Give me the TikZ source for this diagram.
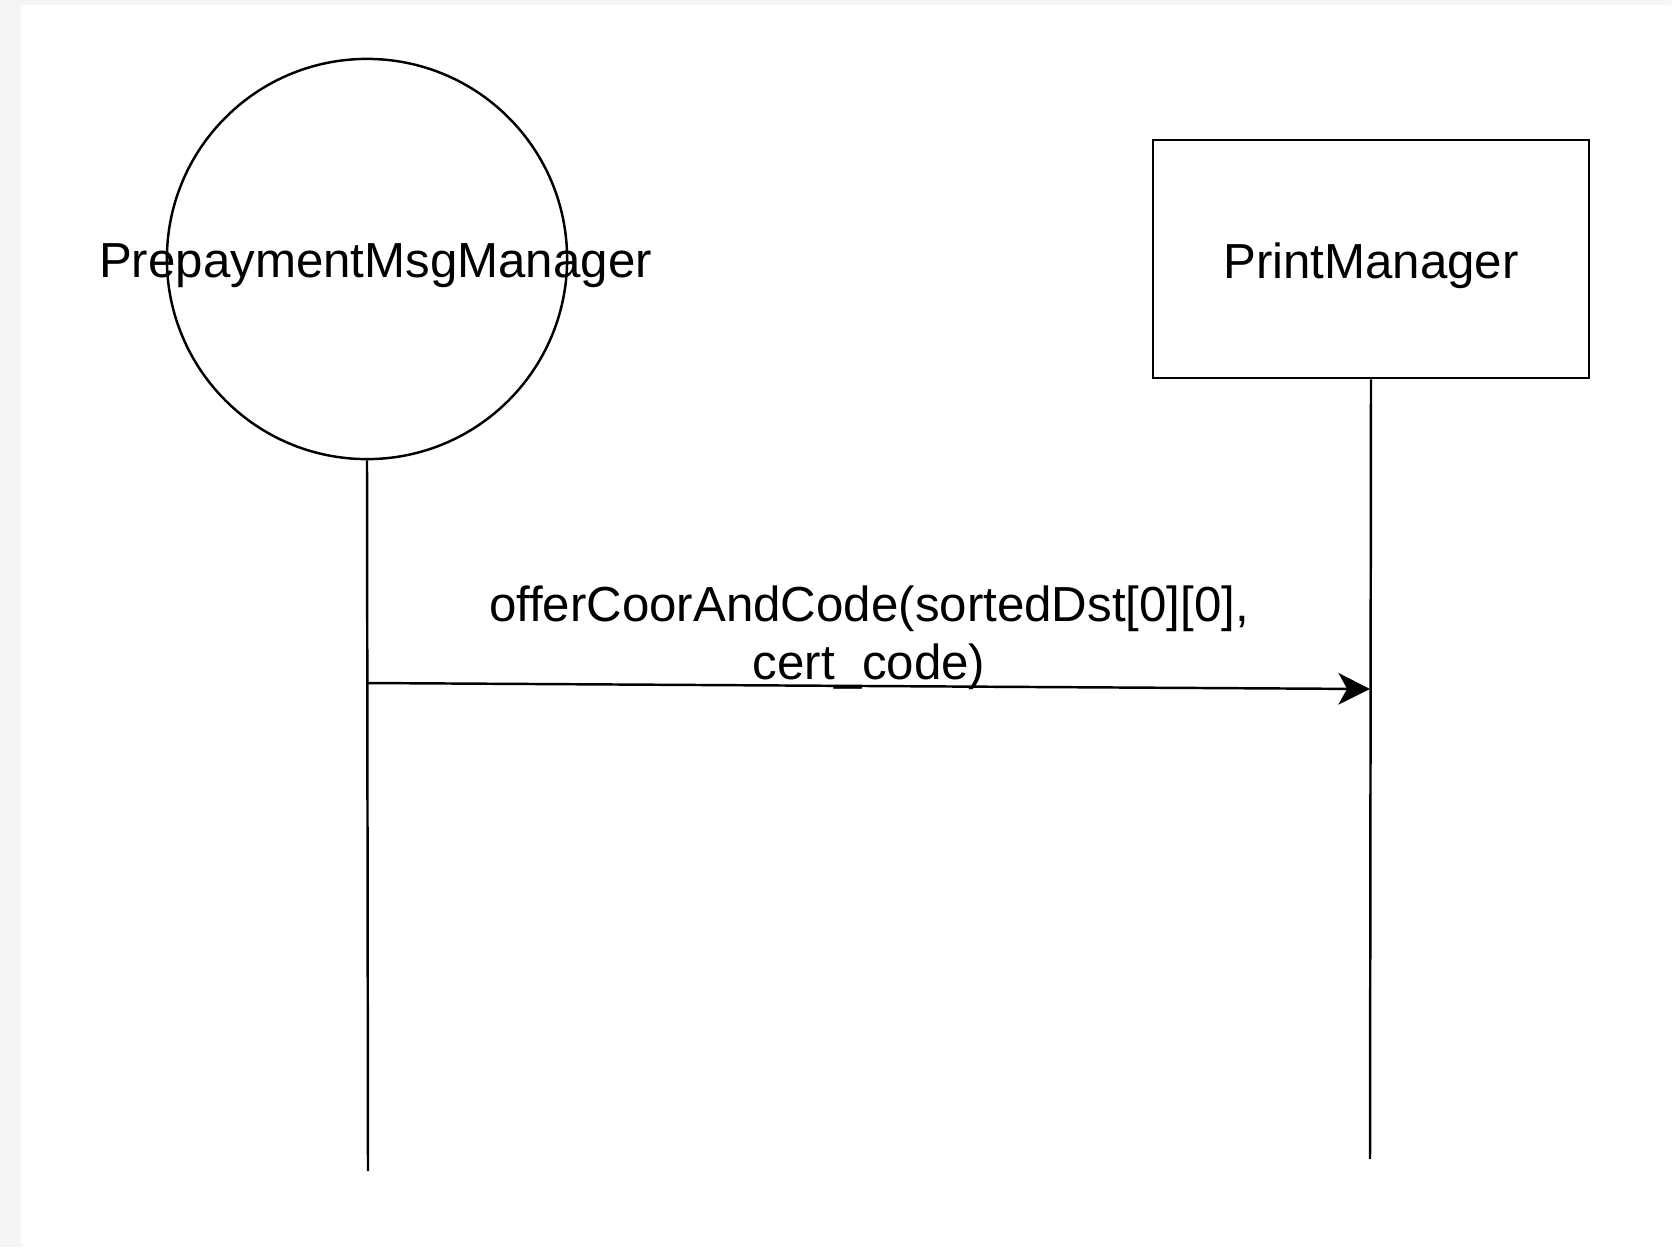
\documentclass[tikz,border=0pt]{standalone}
\usepackage{fontspec}
\setmainfont{Liberation Sans}
\usetikzlibrary{arrows.meta}
\definecolor{pagegray}{RGB}{245,245,245}
\tikzset{
  actor/.style={draw, circle, minimum size=4cm, inner sep=0pt, line width=0.7pt},
  object/.style={draw, rectangle, minimum width=4.36cm, minimum height=2.38cm, inner sep=0pt, line width=0.7pt},
  lifeline/.style={line width=0.7pt},
  message/.style={line width=0.7pt, -{Stealth[length=9pt, width=9pt, inset=2.5pt]}},
  msglabel/.style={align=center, font=\fontsize{14pt}{16.5pt}\selectfont, inner sep=0pt}
}
\begin{document}
\begin{tikzpicture}[x=0.01cm, y=-0.01cm, font=\fontsize{14pt}{16.5pt}\selectfont]
  \fill[pagegray] (0,0) rectangle (1672,1247);
  \fill[white, rounded corners=1pt] (21,5) rectangle (1672,1247);
  \useasboundingbox (0,0) rectangle (1672,1247);
  \node[actor] (pmm) at (367,259) {};
  \node (pmmtext) at ([xshift=0.085cm, yshift=-0.07cm]pmm.center) {PrepaymentMsgManager};
  \node[object] (print) at (1371,259) {};
  \node (printtext) at ([yshift=-0.07cm]print.center) {PrintManager};
  \coordinate (pmmend) at (368,1171);
  \coordinate (printend) at (1370,1159);
  \coordinate (msgfrom) at (368,683);
  \coordinate (msgto) at (1370,689);
  \begin{scope}[lifeline]
    \draw (pmm.south) -- (pmmend);
    \draw (print.south) -- (printend);
  \end{scope}
  \draw[message] (msgfrom) -- (msgto)
    node[msglabel, midway, anchor=south, yshift=-0.05cm] (msgtext) {offerCoorAndCode(sortedDst[0][0],\\cert\_code)};
\end{tikzpicture}
\end{document}
